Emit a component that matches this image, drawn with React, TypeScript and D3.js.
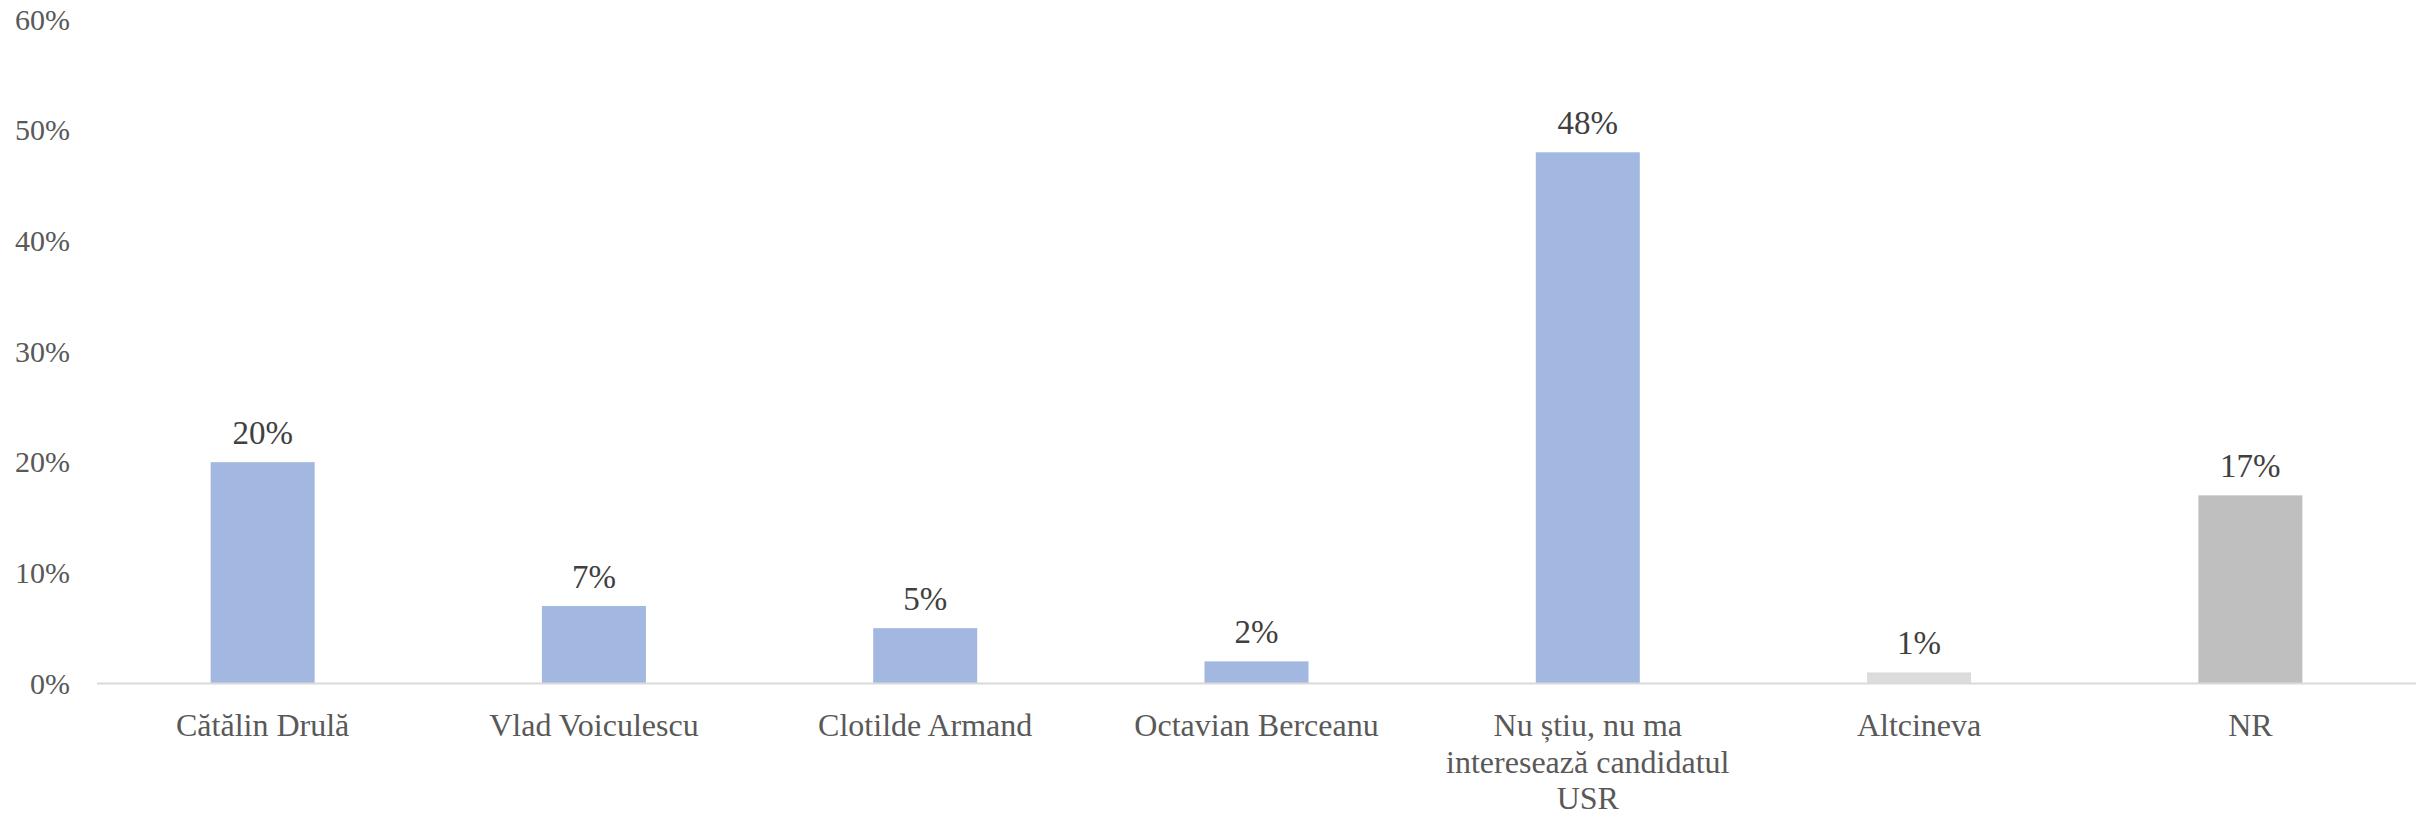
import React from "react";
import * as d3 from "d3";

const categories: string[] = [
  "Cătălin Drulă",
  "Vlad Voiculescu",
  "Clotilde Armand",
  "Octavian Berceanu",
  "Nu știu, nu ma\ninteresează candidatul\nUSR",
  "Altcineva",
  "NR",
];
const values: number[] = [20, 7, 5, 2, 48, 1, 17];
const barColors: string[] = ["#A2B8E0", "#A2B8E0", "#A2B8E0", "#A2B8E0", "#A2B8E0", "#DCDCDC", "#BFBFBF"];
const yTicks: number[] = [0, 10, 20, 30, 40, 50, 60];

const W = 2430;
const H = 816;
const FONT = "'Liberation Serif', 'Times New Roman', serif";

export default function App() {
  const x = d3
    .scaleBand<string>()
    .domain(categories)
    .range([97, 2416])
    .paddingInner(0.686)
    .paddingOuter(0.343);
  const y = d3.scaleLinear().domain([0, 60]).range([683.5, 19.5]);

  return (
    <div style={{ position: "fixed", left: 0, top: 0 }}>
      <svg width={W} height={H} style={{ display: "block", background: "#ffffff" }}>
        <rect x={0} y={0} width={W} height={H} fill="#ffffff" />
        {yTicks.map((t) => (
          <text
            key={t}
            x={70}
            y={y(t)}
            dy="0.34em"
            textAnchor="end"
            fontFamily={FONT}
            fontSize={30}
            fill="#595959"
          >
            {t + "%"}
          </text>
        ))}
        {categories.map((c, i) => (
          <rect
            key={c}
            x={x(c)}
            y={y(values[i])}
            width={x.bandwidth()}
            height={y(0) - y(values[i])}
            fill={barColors[i]}
          />
        ))}
        <line x1={97} x2={2416} y1={y(0)} y2={y(0)} stroke="#D9D9D9" strokeWidth={2} />
        {categories.map((c, i) => (
          <text
            key={"v" + c}
            x={(x(c) as number) + x.bandwidth() / 2}
            y={y(values[i]) - 18}
            textAnchor="middle"
            fontFamily={FONT}
            fontSize={33}
            fill="#404040"
          >
            {values[i] + "%"}
          </text>
        ))}
        {categories.map((c) => (
          <text
            key={"l" + c}
            textAnchor="middle"
            fontFamily={FONT}
            fontSize={32}
            fill="#595959"
          >
            {c.split("\n").map((line, j) => (
              <tspan key={j} x={(x(c) as number) + x.bandwidth() / 2} y={736 + j * 36.5}>
                {line}
              </tspan>
            ))}
          </text>
        ))}
      </svg>
    </div>
  );
}
